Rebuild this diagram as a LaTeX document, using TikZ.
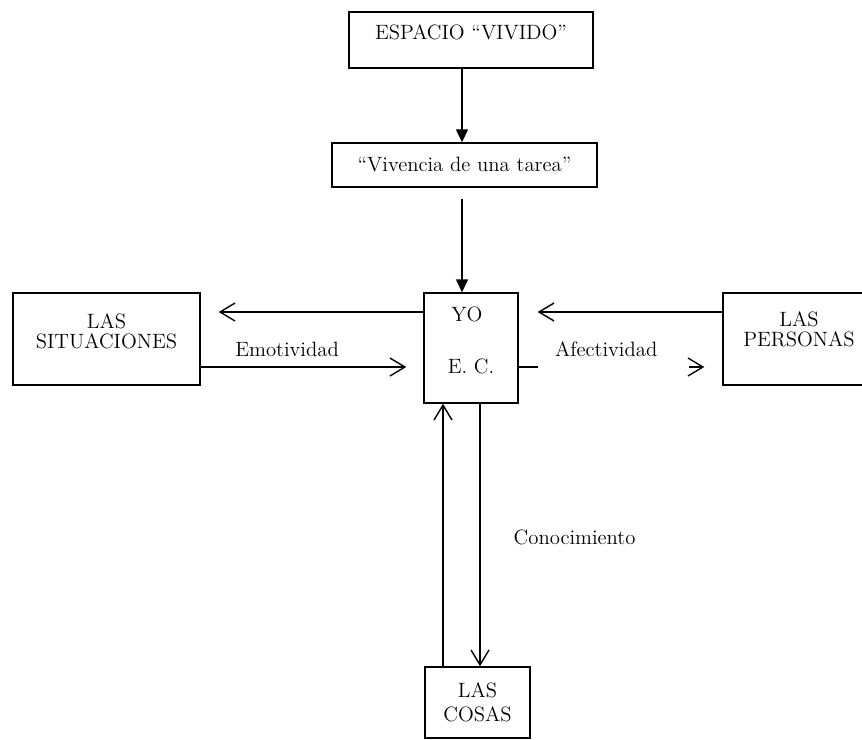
\documentclass[tikz,border=0pt]{standalone}
\usepackage{tikz}
\usetikzlibrary{arrows.meta, positioning, calc}
\tikzset{>=stealth}

\begin{document}
\begin{tikzpicture}[x=0.02cm, y=-0.02cm, line width=0.8pt,
  box/.style={draw, line width=0.8pt, inner sep=0pt, align=center, font=\fontsize{11.8}{11.5}\selectfont},
  txt/.style={align=center, inner sep=0pt, font=\fontsize{11.8}{11.5}\selectfont},
  lab/.style={inner sep=0pt, font=\fontsize{11.8}{11.5}\selectfont},
  full/.style={-{Triangle[length=0.26cm, width=0.24cm]}},
  barb/.style={-{Straight Barb[length=0.3cm, width=0.36cm]}}]

  \useasboundingbox (0,0) rectangle (862,740);

  % boxes
  \node[box, minimum width=4.88cm, minimum height=1.12cm] (esp) at (471,40) {};
  \node[box, minimum width=5.3cm, minimum height=0.88cm] (viv) at (464.5,165) {“Vivencia de una tarea”};
  \node[box, minimum width=1.88cm, minimum height=2.2cm] (yo) at (471,348) {};
  \node[box, minimum width=3.74cm, minimum height=1.84cm] (sit) at (106.5,339) {};
  \node[box, minimum width=3.04cm, minimum height=1.84cm] (per) at (799,339) {};
  \node[box, minimum width=2.1cm, minimum height=1.42cm] (cos) at (477.5,702.5) {LAS\\[2pt]COSAS};

  % texts at the top of the boxes
  \node[txt] (esp-t) at ($(esp.north)+(0,21)$) {ESPACIO “VIVIDO”};
  \node[txt] (yo-a) at ($(yo.north)+(-4,22)$) {YO};
  \node[txt] (yo-b) at ($(yo.north)+(0,74)$) {E. C.};
  \node[txt] (sit-t) at ($(sit.north)+(0,39)$) {LAS\\SITUACIONES};
  \node[txt] (per-t) at ($(per.north)+(0,37)$) {LAS\\PERSONAS};

  % rows and columns of the links
  \coordinate (ax) at (462,0);
  \coordinate (up) at (443,0);
  \coordinate (dn) at (480,0);
  \coordinate (r1) at (0,312);
  \coordinate (r2) at (0,367);

  \coordinate (viv-out) at ($(viv.south -| ax)+(0,11)$);
  \coordinate (sit-in) at ($(sit.east |- r1)+(18,0)$);
  \coordinate (yo-inl) at ($(yo.west |- r2)+(-17,0)$);
  \coordinate (yo-inr) at ($(yo.east |- r1)+(19,0)$);
  \coordinate (afe-a) at ($(yo.east |- r2)+(19,0)$);
  \coordinate (afe-b) at ($(per.west |- r2)+(-33,0)$);
  \coordinate (per-in) at ($(per.west |- r2)+(-18,0)$);

  % links
  \draw[full] (esp.south -| ax) -- (viv.north -| ax);
  \draw[full] (viv-out) -- (yo.north -| ax);

  \draw[barb] (yo.west |- r1) -- (sit-in);
  \draw[barb] (sit.east |- r2) -- node[lab, pos=.42, above=0.19cm] (emo) {Emotividad} (yo-inl);

  \draw[barb] (per.west |- r1) -- (yo-inr);
  \draw (yo.east |- r2) -- (afe-a);
  \draw[barb] (afe-b) -- (per-in);
  \path (yo.east |- r2) -- node[lab, pos=.43, above=0.19cm] (afe) {Afectividad} (per.west |- r2);

  \draw[barb] (cos.north -| up) -- (yo.south -| up);
  \draw[barb] (yo.south -| dn) -- node[lab, pos=.51, right=0.66cm] (con) {Conocimiento} (cos.north -| dn);
\end{tikzpicture}
\end{document}
